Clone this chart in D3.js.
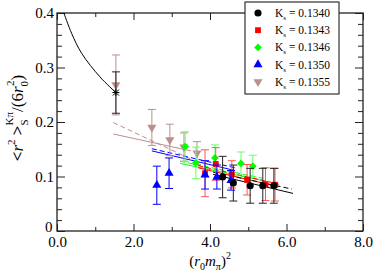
<!DOCTYPE html>
<html>
<head>
<meta charset="utf-8">
<script src="https://cdn.jsdelivr.net/npm/d3@7"></script>
<style>
  body { margin: 0; background: #fff; }
  svg { display: block; font-family: "Liberation Serif", "Times New Roman", serif; }
</style>
</head>
<body>
<div id="chart"></div>
<script>
// tick values / labels
const xTicks = [0, 2, 4, 6, 8];
const xTickLabels = ["0.0", "2.0", "4.0", "6.0", "8.0"];
const yTicks = [0, 0.1, 0.2, 0.3, 0.4];
const yTickLabels = ["0", "0.1", "0.2", "0.3", "0.4"];

// legend labels
const kappaLabels = ["0.1340", "0.1343", "0.1346", "0.1350", "0.1355"];

// data: [ (r0 m_pi)^2, <r^2>/(6 r0^2), error ]
const k1340 = [[4.33, 0.099, 0.038], [4.61, 0.088, 0.033], [5.05, 0.083, 0.032], [5.38, 0.083, 0.032], [5.67, 0.083, 0.032]];
const k1343 = [[3.87, 0.106, 0.043], [4.15, 0.123, 0.030], [4.57, 0.104, 0.025], [4.97, 0.094, 0.028], [5.45, 0.086, 0.030], [5.70, 0.085, 0.030]];
const k1346 = [[3.35, 0.155, 0.027], [3.63, 0.125, 0.029], [4.13, 0.134, 0.024], [4.81, 0.124, 0.021], [5.12, 0.119, 0.020]];
const k1350 = [[2.61, 0.084, 0.035], [2.93, 0.106, 0.028], [3.87, 0.103, 0.026], [4.18, 0.099, 0.022], [4.55, 0.093, 0.018]];
const k1355 = [[1.54, 0.268, 0.055], [2.48, 0.190, 0.033], [2.95, 0.167, 0.029], [3.32, 0.154, 0.026], [3.66, 0.143, 0.021]];

// chiral extrapolation point and curve
const chiralPoint = [1.54, 0.254, 0.038];
const chiralCurve = [[0.18, 0.4], [0.38, 0.363], [0.645, 0.326], [1.12, 0.283], [1.54, 0.254]];

// fit lines per kappa: [x1, y1, x2, y2], first dashed, second solid
const fit1340 = [[4.08, 0.108, 6.14, 0.077], [4.08, 0.104, 6.17, 0.069]];
const fit1343 = [[3.69, 0.120, 5.80, 0.086], [3.69, 0.116, 5.80, 0.081]];
const fit1346 = [[3.22, 0.128, 5.36, 0.097], [3.22, 0.124, 5.36, 0.093]];
const fit1350 = [[2.48, 0.151, 4.65, 0.116], [2.48, 0.147, 4.65, 0.111]];
const fit1355 = [[1.47, 0.199, 3.50, 0.132], [1.47, 0.178, 3.50, 0.147]];

const width = 374, height = 276;
const margin = {left: 57, right: 11, top: 13, bottom: 45};

const svg = d3.select("#chart").append("svg")
    .attr("width", width)
    .attr("height", height);

const x = d3.scaleLinear().domain([0, 8]).range([margin.left, width - margin.right]);
const y = d3.scaleLinear().domain([0, 0.4]).range([height - margin.bottom, margin.top]);

const x0 = x(0), x1 = x(8), y0 = y(0), y1 = y(0.4);

function marker(type) {
    if (type == "circle") return d3.symbol().type(d3.symbolCircle).size(40)();
    if (type == "square") return d3.symbol().type(d3.symbolSquare).size(34)();
    if (type == "diamond") return d3.symbol().type(d3.symbolSquare).size(30)();
    if (type == "up") return d3.symbol().type(d3.symbolTriangle).size(36)();
    if (type == "down") return d3.symbol().type(d3.symbolTriangle).size(36)();
    return "";
}
function rot(type) {
    if (type == "diamond") return 45;
    if (type == "down") return 180;
    return 0;
}

const s1340 = {data: k1340, fit: fit1340, color: "#000000", bar: "#222222", type: "circle"};
const s1343 = {data: k1343, fit: fit1343, color: "#ff0000", bar: "#ff5555", type: "square"};
const s1346 = {data: k1346, fit: fit1346, color: "#00ff00", bar: "#66ff66", type: "diamond"};
const s1350 = {data: k1350, fit: fit1350, color: "#0000ff", bar: "#0000ff", type: "up"};
const s1355 = {data: k1355, fit: fit1355, color: "#bc8f8f", bar: "#bc8f8f", type: "down"};

// drawing order (back to front) and legend order
const drawOrder = [s1355, s1346, s1343, s1350, s1340];
const legendOrder = [s1340, s1343, s1346, s1350, s1355];

// axes (ticks pointing inward, mirrored on top/right)
const tickStyle = g => g.selectAll("line").attr("stroke", "#222");
svg.append("g").attr("transform", `translate(0,${y0})`)
    .call(d3.axisBottom(x).tickValues(xTicks).tickSize(-7).tickPadding(5)
        .tickFormat((d, i) => xTickLabels[i]))
    .call(g => g.select(".domain").remove())
    .call(tickStyle)
    .call(g => g.selectAll("text").attr("font-size", 15).attr("fill", "#000")
        .attr("font-family", "Liberation Serif").attr("dy", "0.75em"));
svg.append("g").attr("transform", `translate(0,${y0})`)
    .call(d3.axisBottom(x).tickValues(d3.range(1, 8, 2)).tickSize(-4).tickFormat(""))
    .call(g => g.select(".domain").remove()).call(tickStyle);
svg.append("g").attr("transform", `translate(0,${y1})`)
    .call(d3.axisTop(x).tickValues(xTicks).tickSize(-7).tickFormat(""))
    .call(g => g.select(".domain").remove()).call(tickStyle);
svg.append("g").attr("transform", `translate(0,${y1})`)
    .call(d3.axisTop(x).tickValues(d3.range(1, 8, 2)).tickSize(-4).tickFormat(""))
    .call(g => g.select(".domain").remove()).call(tickStyle);

const yMinor = d3.range(0.02, 0.4, 0.02).filter(v => Math.abs(v * 10 - Math.round(v * 10)) > 1e-6);
svg.append("g").attr("transform", `translate(${x0},0)`)
    .call(d3.axisLeft(y).tickValues(yTicks).tickSize(-8).tickPadding(3)
        .tickFormat((d, i) => yTickLabels[i]))
    .call(g => g.select(".domain").remove())
    .call(tickStyle)
    .call(g => g.selectAll("text").attr("font-size", 15).attr("fill", "#000")
        .attr("font-family", "Liberation Serif"))
    .call(g => g.selectAll("text").filter(d => d == 0).attr("dy", "0.05em").attr("dx", "-0.1em"));
svg.append("g").attr("transform", `translate(${x0},0)`)
    .call(d3.axisLeft(y).tickValues(yMinor).tickSize(-5).tickFormat(""))
    .call(g => g.select(".domain").remove()).call(tickStyle);
svg.append("g").attr("transform", `translate(${x1},0)`)
    .call(d3.axisRight(y).tickValues(yTicks).tickSize(-8).tickFormat(""))
    .call(g => g.select(".domain").remove()).call(tickStyle);
svg.append("g").attr("transform", `translate(${x1},0)`)
    .call(d3.axisRight(y).tickValues(yMinor).tickSize(-5).tickFormat(""))
    .call(g => g.select(".domain").remove()).call(tickStyle);

// frame
svg.append("rect")
    .attr("x", x0).attr("y", y1)
    .attr("width", x1 - x0).attr("height", y0 - y1)
    .attr("fill", "none").attr("stroke", "#222").attr("stroke-width", 1.3);

const plot = svg.append("g");

// chiral curve
plot.append("path")
    .datum(chiralCurve)
    .attr("fill", "none").attr("stroke", "#000").attr("stroke-width", 1)
    .attr("d", d3.line().x(d => x(d[0])).y(d => y(d[1])).curve(d3.curveCatmullRom));

// fit lines
drawOrder.forEach(s => {
    s.fit.forEach((f, i) => {
        plot.append("line")
            .attr("x1", x(f[0])).attr("y1", y(f[1]))
            .attr("x2", x(f[2])).attr("y2", y(f[3]))
            .attr("stroke", s.color).attr("stroke-width", 1)
            .attr("stroke-dasharray", i == 0 ? "5,3" : null);
    });
});

function errorBars(g, data, color, cap) {
    const e = g.selectAll(null).data(data).enter().append("g").attr("stroke", color).attr("stroke-width", 1);
    e.append("line")
        .attr("x1", d => x(d[0])).attr("x2", d => x(d[0]))
        .attr("y1", d => y(d[1] + d[2])).attr("y2", d => y(d[1] - d[2]));
    e.append("line")
        .attr("x1", d => x(d[0]) - cap).attr("x2", d => x(d[0]) + cap)
        .attr("y1", d => y(d[1] + d[2])).attr("y2", d => y(d[1] + d[2]));
    e.append("line")
        .attr("x1", d => x(d[0]) - cap).attr("x2", d => x(d[0]) + cap)
        .attr("y1", d => y(d[1] - d[2])).attr("y2", d => y(d[1] - d[2]));
}

drawOrder.forEach(s => {
    errorBars(plot, s.data, s.bar, 4);
    plot.selectAll(null).data(s.data).enter().append("path")
        .attr("d", marker(s.type))
        .attr("transform", d => `translate(${x(d[0])},${y(d[1])}) rotate(${rot(s.type)})`)
        .attr("fill", s.color);
});

// chiral point (star)
errorBars(plot, [chiralPoint], "#222", 4);
const cx = x(chiralPoint[0]), cy = y(chiralPoint[1]);
[[-3.5, 0, 3.5, 0], [0, -3.5, 0, 3.5], [-3, -3, 3, 3], [-3, 3, 3, -3]].forEach(l => {
    plot.append("line")
        .attr("x1", cx + l[0]).attr("y1", cy + l[1])
        .attr("x2", cx + l[2]).attr("y2", cy + l[3])
        .attr("stroke", "#000").attr("stroke-width", 1);
});

// legend
const lg = svg.append("g").attr("transform", "translate(245,2)");
lg.append("rect").attr("width", 94).attr("height", 92)
    .attr("fill", "#fff").attr("stroke", "#333").attr("stroke-width", 1.2);
legendOrder.forEach((s, i) => {
    const ly = 11 + i * 17.2;
    lg.append("path").attr("d", marker(s.type))
        .attr("transform", `translate(13,${ly}) rotate(${rot(s.type)})`)
        .attr("fill", s.color);
    const t = lg.append("text").attr("x", 30).attr("y", ly + 4)
        .attr("font-size", 11.5).attr("fill", "#000");
    t.append("tspan").text("K");
    t.append("tspan").attr("font-size", 7).attr("dy", 3).text("s");
    t.append("tspan").attr("dy", -3).text(" = " + kappaLabels[i]);
});

// x label
const xl = svg.append("text")
    .attr("x", 210).attr("y", 266)
    .attr("text-anchor", "middle").attr("font-size", 15).attr("fill", "#000");
xl.append("tspan").text("(");
xl.append("tspan").attr("font-style", "italic").text("r");
xl.append("tspan").attr("font-size", 10).attr("dy", 4).text("0");
xl.append("tspan").attr("font-style", "italic").attr("dy", -4).text("m");
xl.append("tspan").attr("font-size", 10).attr("dy", 4).text("π");
xl.append("tspan").attr("dy", -4).text(")");
xl.append("tspan").attr("font-size", 10).attr("dy", -7).text("2");

// y label
const yl = svg.append("text")
    .attr("transform", "translate(23,118) rotate(-90)")
    .attr("text-anchor", "middle").attr("font-size", 17).attr("fill", "#000");
yl.append("tspan").attr("font-weight", "bold").text("<");
yl.append("tspan").attr("font-style", "italic").text("r");
yl.append("tspan").attr("font-size", 11).attr("dy", -8).text("2");
yl.append("tspan").attr("font-weight", "bold").attr("dy", 8).text(" >");
yl.append("tspan").attr("font-size", 11).attr("dy", 5).text("S");
yl.append("tspan").attr("font-size", 11).attr("dx", -6).attr("dy", -15).text("Kπ");
yl.append("tspan").attr("dy", 10).text("/(6");
yl.append("tspan").attr("font-style", "italic").text("r");
yl.append("tspan").attr("font-size", 11).attr("dy", 5).text("0");
yl.append("tspan").attr("font-size", 11).attr("dx", -5).attr("dy", -14).text("2");
yl.append("tspan").attr("dy", 9).text(")");
</script>
</body>
</html>
